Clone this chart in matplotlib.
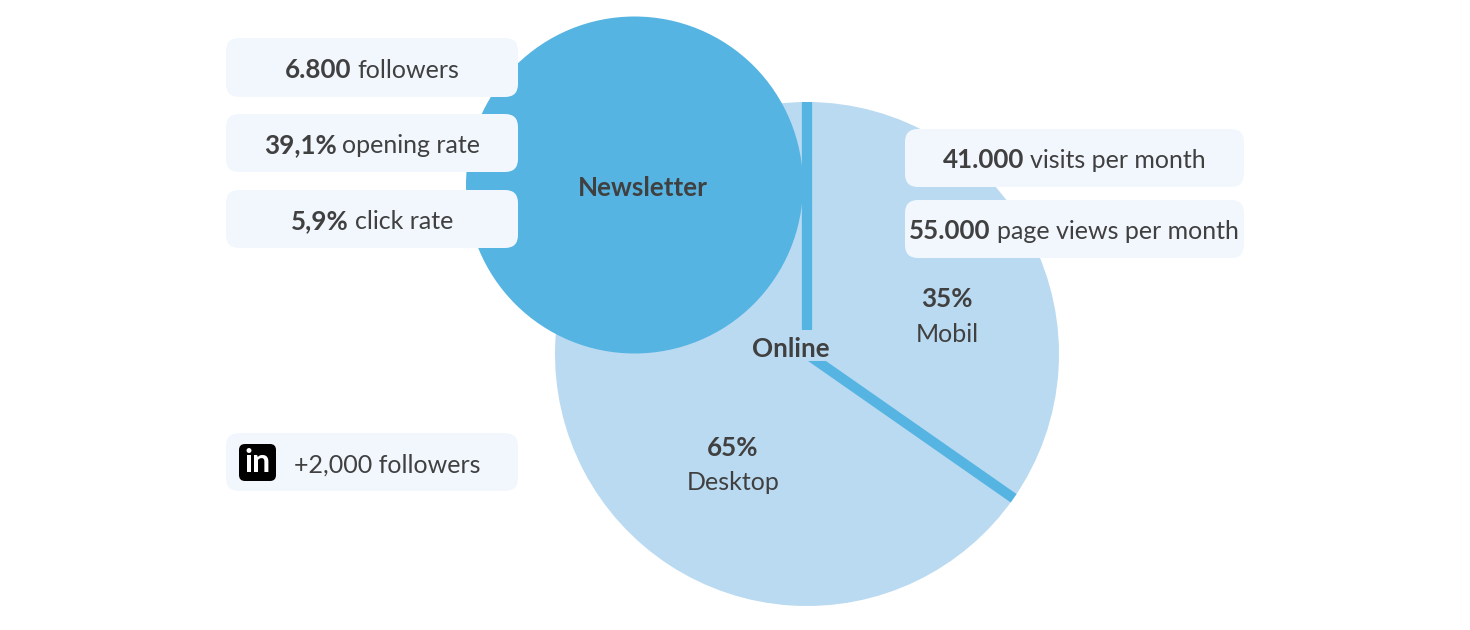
import matplotlib
matplotlib.use('Agg')
import matplotlib.pyplot as plt
from matplotlib.patches import Circle, FancyBboxPatch, Rectangle
import numpy as np

device_shares = [34.7, 65.3]
device_names = ['Mobil', 'Desktop']
device_share_labels = ['35%', '65%']

newsletter_bold = ['6.800', '39,1%', '5,9%']
newsletter_rest = ['followers', 'opening rate', 'click rate']
online_bold = ['41.000', '55.000']
online_rest = ['visits per month', 'page views per month']
linkedin_text = '+2,000 followers'

DARK = '#56B4E2'
LIGHT = '#BADAF1'
CARD = '#F2F7FE'
INK = '#404040'
FONT = 'Lato'
SIZE = 18
BOLD_SIZE = 18.7

fig = plt.figure(figsize=(14.7, 6.3), dpi=100)
ax = fig.add_axes([0, 0, 1, 1])


def card(x0, y0, x1, y1):
    r = 13
    ax.add_patch(FancyBboxPatch((x0 + r, y0 + r), x1 - x0 - 2 * r, y1 - y0 - 2 * r,
                                boxstyle=f'round,pad={r},rounding_size={r}',
                                fc=CARD, ec='none', zorder=4))


def two_part(xc, yc, bold, rest):
    # bold number + regular text, centred together
    t1 = ax.text(0, yc, bold, fontsize=BOLD_SIZE, fontweight='bold', family=FONT, color=INK,
                 va='baseline', ha='left', zorder=5)
    t2 = ax.text(0, yc, rest, fontsize=SIZE, family=FONT, color=INK,
                 va='baseline', ha='left', zorder=5)
    rend = fig.canvas.get_renderer()
    w1 = t1.get_window_extent(rend).width
    w2 = t2.get_window_extent(rend).width
    gap = 6
    left = xc - (w1 + w2 + gap) / 2
    t1.set_x(left)
    t2.set_x(left + w1 + gap)


# pie (y axis is flipped, so counterclock gives clockwise on screen)
cx, cy, R = 807, 354, 252
ax.pie(device_shares, colors=[LIGHT, LIGHT], center=(cx, cy), radius=R,
       startangle=-90, counterclock=True, frame=False)
ax.set_xlim(0, 1470)
ax.set_ylim(630, 0)
ax.set_aspect('equal')
ax.axis('off')

# separators between the slices
angle = 0
for share in device_shares:
    a = np.radians(angle)
    dx, dy = np.sin(a), -np.cos(a)
    ax.plot([cx, cx + dx * R], [cy, cy + dy * R],
            color=DARK, lw=7.4, solid_capstyle='butt', zorder=2)
    angle += share * 3.6

# plate behind the Online label, cuts the separators
ax.add_patch(Rectangle((748, 330), 86, 31, fc=LIGHT, ec='none', zorder=2.5))

ax.add_patch(Circle((634.5, 185), 168.5, fc=DARK, ec='none', zorder=3))

ax.text(643, 188, 'Newsletter', fontsize=BOLD_SIZE, fontweight='bold', family=FONT, color=INK,
        ha='center', va='center', zorder=5)
ax.text(791, 349, 'Online', fontsize=BOLD_SIZE, fontweight='bold', family=FONT, color=INK,
        ha='center', va='center', zorder=5)

ax.text(947, 299, device_share_labels[0], fontsize=BOLD_SIZE, fontweight='bold', family=FONT,
        color=INK, ha='center', va='center', zorder=5)
ax.text(947, 334, device_names[0], fontsize=SIZE, family=FONT, color=INK,
        ha='center', va='center', zorder=5)
ax.text(733, 448, device_share_labels[1], fontsize=BOLD_SIZE, fontweight='bold', family=FONT,
        color=INK, ha='center', va='center', zorder=5)
ax.text(733, 483, device_names[1], fontsize=SIZE, family=FONT, color=INK,
        ha='center', va='center', zorder=5)

# left cards
for (y0, y1), b, r in zip([(38, 97), (114, 172), (190, 248)], newsletter_bold, newsletter_rest):
    card(226, y0, 518, y1)
    two_part(372, (y0 + y1) / 2 + 10, b, r)

# right cards
for (y0, y1), b, r in zip([(129, 187), (200, 258)], online_bold, online_rest):
    card(905, y0, 1244, y1)
    two_part(1074, (y0 + y1) / 2 + 10, b, r)

# linkedin card
card(226, 433, 518, 491)
ax.add_patch(FancyBboxPatch((244, 449), 27, 27, boxstyle='round,pad=5,rounding_size=6',
                            fc='black', ec='none', zorder=5))
ax.text(257.5, 463, 'in', fontsize=23, fontweight='bold', family=FONT, color='white',
        ha='center', va='center', zorder=6)
ax.text(294, 465, linkedin_text, fontsize=SIZE, family=FONT, color=INK,
        ha='left', va='center', zorder=5)

fig.savefig('out.png', dpi=100, facecolor='white')
